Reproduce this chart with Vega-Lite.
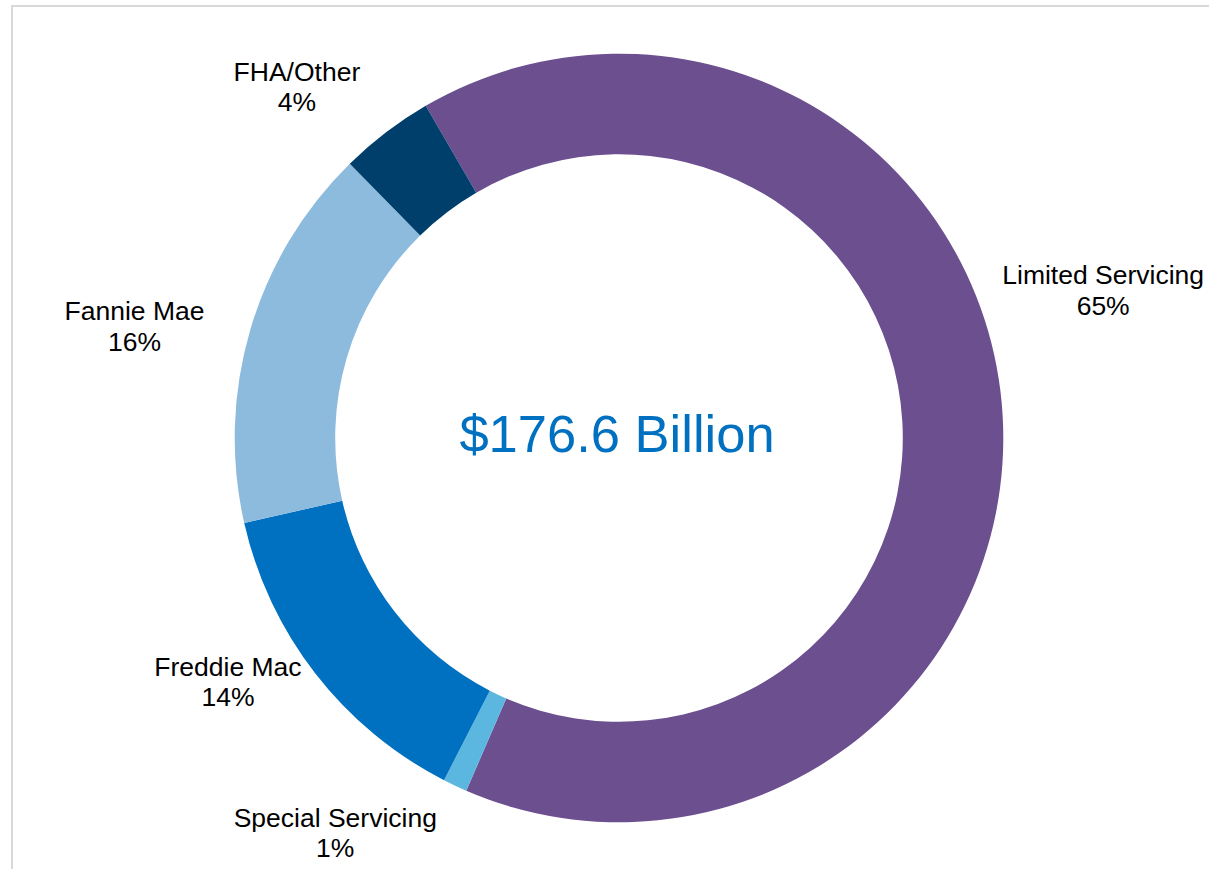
{
  "$schema": "https://vega.github.io/schema/vega-lite/v6.json",
  "autosize": "none",
  "width": 1214,
  "height": 864,
  "padding": {"left": 12, "top": 6, "right": -17, "bottom": -1},
  "background": "white",
  "view": {"stroke": "#d9d9d9", "strokeWidth": 2},
  "data": {
    "values": [
      {"category": "Limited Servicing", "value": 114.6},
      {"category": "Special Servicing", "value": 1.8},
      {"category": "Freddie Mac", "value": 24.6},
      {"category": "Fannie Mae", "value": 28.6},
      {"category": "FHA/Other", "value": 7.0}
    ]
  },
  "transform": [
    {"stack": "value", "groupby": [], "as": ["v0", "v1"]},
    {"joinaggregate": [{"op": "sum", "field": "value", "as": "total"}]},
    {"calculate": "(datum.v0 + datum.v1) / 2", "as": "mid"},
    {"calculate": "datum.category + '\\n' + format(100 * datum.value / datum.total, '.0f') + '%'", "as": "label"}
  ],
  "layer": [
    {
      "mark": {"type": "arc", "radius": 384.3, "radius2": 283.8},
      "encoding": {
        "theta": {"field": "v1", "type": "quantitative", "scale": {"range": [-0.5271, 5.7561], "nice": false, "zero": true}},
        "theta2": {"field": "v0"},
        "color": {
          "field": "category",
          "type": "nominal",
          "scale": {
            "domain": ["Limited Servicing", "Special Servicing", "Freddie Mac", "Fannie Mae", "FHA/Other"],
            "range": ["#6C4F8F", "#5BB7E0", "#0070C0", "#8DBBDD", "#003F6B"]
          },
          "legend": null
        }
      }
    },
    {
      "transform": [{"filter": "datum.category === 'Limited Servicing'"}],
      "mark": {"type": "text", "radius": 480, "dx": 5, "dy": -133.5, "font": "Liberation Sans", "fontSize": 26.5, "lineBreak": "\n", "lineHeight": 30.5, "color": "#000000", "align": "center", "baseline": "middle"},
      "encoding": {"theta": {"field": "mid", "type": "quantitative"}, "text": {"field": "label"}}
    },
    {
      "transform": [{"filter": "datum.category === 'Special Servicing'"}],
      "mark": {"type": "text", "radius": 480, "dx": -79, "dy": -53.5, "font": "Liberation Sans", "fontSize": 26.5, "lineBreak": "\n", "lineHeight": 30.5, "color": "#000000", "align": "center", "baseline": "middle"},
      "encoding": {"theta": {"field": "mid", "type": "quantitative"}, "text": {"field": "label"}}
    },
    {
      "transform": [{"filter": "datum.category === 'Freddie Mac'"}],
      "mark": {"type": "text", "radius": 480, "dx": -12, "dy": -64.5, "font": "Liberation Sans", "fontSize": 26.5, "lineBreak": "\n", "lineHeight": 30.5, "color": "#000000", "align": "center", "baseline": "middle"},
      "encoding": {"theta": {"field": "mid", "type": "quantitative"}, "text": {"field": "label"}}
    },
    {
      "transform": [{"filter": "datum.category === 'Fannie Mae'"}],
      "mark": {"type": "text", "radius": 480, "dx": -24, "dy": 9.5, "font": "Liberation Sans", "fontSize": 26.5, "lineBreak": "\n", "lineHeight": 30.5, "color": "#000000", "align": "center", "baseline": "middle"},
      "encoding": {"theta": {"field": "mid", "type": "quantitative"}, "text": {"field": "label"}}
    },
    {
      "transform": [{"filter": "datum.category === 'FHA/Other'"}],
      "mark": {"type": "text", "radius": 480, "dx": -31, "dy": 16.5, "font": "Liberation Sans", "fontSize": 26.5, "lineBreak": "\n", "lineHeight": 30.5, "color": "#000000", "align": "center", "baseline": "middle"},
      "encoding": {"theta": {"field": "mid", "type": "quantitative"}, "text": {"field": "label"}}
    },
    {
      "transform": [
        {"aggregate": [{"op": "sum", "field": "value", "as": "sum"}]},
        {"calculate": "'$' + format(datum.sum, '.1f') + ' Billion'", "as": "t"}
      ],
      "mark": {"type": "text", "font": "Liberation Sans", "fontSize": 52.5, "color": "#0070C0", "align": "center", "baseline": "middle", "dx": -2, "dy": -2},
      "encoding": {"text": {"field": "t"}}
    }
  ]
}
